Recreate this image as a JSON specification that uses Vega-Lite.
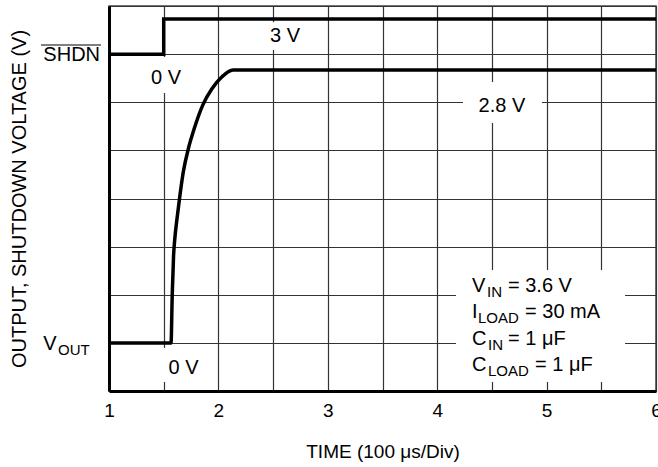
{
  "$schema": "https://vega.github.io/schema/vega-lite/v6.json",
  "width": 547,
  "height": 385,
  "autosize": {"type": "none"},
  "padding": {"left": 109, "top": 6, "right": 2, "bottom": 76},
  "background": "white",
  "config": {
    "view": {"stroke": "#444", "strokeWidth": 1.5},
    "font": "Liberation Sans",
    "text": {"font": "Liberation Sans", "color": "black"}
  },
  "datasets": {
    "traces": [
      {"series": "SHDN", "t": 1, "v": 7},
      {"series": "SHDN", "t": 1.5, "v": 7},
      {"series": "SHDN", "t": 1.5, "v": 7.73},
      {"series": "SHDN", "t": 6, "v": 7.73},
      {"series": "VOUT", "t": 1, "v": 1},
      {"series": "VOUT", "t": 1.567, "v": 1},
      {"series": "VOUT", "t": 1.578, "v": 2.0},
      {"series": "VOUT", "t": 1.59, "v": 2.8},
      {"series": "VOUT", "t": 1.603, "v": 3.2},
      {"series": "VOUT", "t": 1.62, "v": 3.55},
      {"series": "VOUT", "t": 1.643, "v": 3.97},
      {"series": "VOUT", "t": 1.679, "v": 4.55},
      {"series": "VOUT", "t": 1.725, "v": 5.03},
      {"series": "VOUT", "t": 1.786, "v": 5.5},
      {"series": "VOUT", "t": 1.859, "v": 5.95},
      {"series": "VOUT", "t": 1.941, "v": 6.28},
      {"series": "VOUT", "t": 2.033, "v": 6.53},
      {"series": "VOUT", "t": 2.133, "v": 6.67},
      {"series": "VOUT", "t": 6, "v": 6.67}
    ],
    "boxes": [
      {"t1": 2.398, "t2": 2.837, "v1": 7.086, "v2": 7.66},
      {"t1": 1.283, "t2": 1.759, "v1": 6.19, "v2": 6.94},
      {"t1": 4.236, "t2": 4.958, "v1": 5.569, "v2": 6.421},
      {"t1": 1.375, "t2": 1.923, "v1": 0.187, "v2": 0.894},
      {"t1": 4.172, "t2": 5.717, "v1": 0.187, "v2": 2.514}
    ],
    "centerLabels": [
      {"t": 2.609, "v": 7.252, "text": "3 V"},
      {"t": 1.521, "v": 6.379, "text": "0 V"},
      {"t": 4.592, "v": 5.797, "text": "2.8 V"},
      {"t": 1.681, "v": 0.353, "text": "0 V"}
    ],
    "mainLabels": [
      {"t": 4.318, "v": 2.058, "text": "V"},
      {"t": 4.647, "v": 2.058, "text": "= 3.6 V"},
      {"t": 4.318, "v": 1.518, "text": "I"},
      {"t": 4.803, "v": 1.518, "text": "= 30 mA"},
      {"t": 4.318, "v": 0.956, "text": "C"},
      {"t": 4.647, "v": 0.956, "text": "= 1 μF"},
      {"t": 4.318, "v": 0.416, "text": "C"},
      {"t": 4.894, "v": 0.416, "text": "= 1 μF"},
      {"t": 0.4, "v": 0.852, "text": "V"}
    ],
    "subLabels": [
      {"t": 4.455, "v": 1.954, "text": "IN"},
      {"t": 4.373, "v": 1.414, "text": "LOAD"},
      {"t": 4.464, "v": 0.852, "text": "IN"},
      {"t": 4.464, "v": 0.312, "text": "LOAD"},
      {"t": 0.534, "v": 0.748, "text": "OUT"}
    ],
    "rightLabels": [
      {"t": 0.918, "v": 6.854, "text": "SHDN"}
    ],
    "overline": [
      {"t1": 0.378, "t2": 0.927, "v": 7.19}
    ]
  },
  "encoding": {
    "x": {
      "field": "t", "type": "quantitative",
      "scale": {"domain": [1, 6], "nice": false, "zero": false},
      "axis": {
        "values": [1, 1.5, 2, 2.5, 3, 3.5, 4, 4.5, 5, 5.5, 6],
        "labelExpr": "datum.value % 1 == 0 ? format(datum.value, 'd') : ''",
        "ticks": false,
        "domain": true, "domainColor": "black", "domainWidth": 3,
        "grid": true, "gridColor": "#333", "gridWidth": 1.2,
        "labelFont": "Liberation Sans", "labelFontSize": 19, "labelColor": "black",
        "labelPadding": 10, "labelOverlap": false, "labelFlush": false, "labelBound": false,
        "title": "TIME (100 μs/Div)",
        "titleFont": "Liberation Sans", "titleFontSize": 19, "titleFontWeight": "normal", "titleColor": "black",
        "titlePadding": 22
      }
    },
    "y": {
      "field": "v", "type": "quantitative",
      "scale": {"domain": [0, 8], "nice": false, "zero": false},
      "axis": {
        "values": [0, 1, 2, 3, 4, 5, 6, 7, 8],
        "labels": false,
        "ticks": false,
        "domain": true, "domainColor": "black", "domainWidth": 3,
        "grid": true, "gridColor": "#333", "gridWidth": 1.2,
        "title": "OUTPUT, SHUTDOWN VOLTAGE (V)",
        "titleFont": "Liberation Sans", "titleFontSize": 20, "titleFontWeight": "normal", "titleColor": "black",
        "titlePadding": 80
      }
    }
  },
  "layer": [
    {
      "data": {"name": "boxes"},
      "mark": {"type": "rect", "fill": "white", "stroke": null},
      "encoding": {
        "x": {"field": "t1", "type": "quantitative"},
        "x2": {"field": "t2"},
        "y": {"field": "v1", "type": "quantitative"},
        "y2": {"field": "v2"}
      }
    },
    {
      "data": {"name": "traces"},
      "transform": [{"filter": "datum.series == 'SHDN'"}],
      "mark": {"type": "line", "color": "black", "strokeWidth": 3.5, "interpolate": "linear", "strokeJoin": "miter", "strokeCap": "butt"},
      "encoding": {}
    },
    {
      "data": {"name": "traces"},
      "transform": [{"filter": "datum.series == 'VOUT'"}],
      "mark": {"type": "line", "color": "black", "strokeWidth": 3.5, "interpolate": "monotone", "strokeJoin": "miter", "strokeCap": "butt"},
      "encoding": {}
    },
    {
      "data": {"name": "centerLabels"},
      "mark": {"type": "text", "align": "center", "baseline": "alphabetic", "fontSize": 20, "font": "Liberation Sans", "color": "black"},
      "encoding": {"text": {"field": "text"}}
    },
    {
      "data": {"name": "mainLabels"},
      "mark": {"type": "text", "align": "left", "baseline": "alphabetic", "fontSize": 20, "font": "Liberation Sans", "color": "black"},
      "encoding": {"text": {"field": "text"}}
    },
    {
      "data": {"name": "subLabels"},
      "mark": {"type": "text", "align": "left", "baseline": "alphabetic", "fontSize": 15, "font": "Liberation Sans", "color": "black"},
      "encoding": {"text": {"field": "text"}}
    },
    {
      "data": {"name": "rightLabels"},
      "mark": {"type": "text", "align": "right", "baseline": "alphabetic", "fontSize": 20, "font": "Liberation Sans", "color": "black"},
      "encoding": {"text": {"field": "text"}}
    },
    {
      "data": {"name": "overline"},
      "mark": {"type": "rule", "color": "black", "strokeWidth": 1.2},
      "encoding": {
        "x": {"field": "t1", "type": "quantitative"},
        "x2": {"field": "t2"},
        "y": {"field": "v", "type": "quantitative"}
      }
    }
  ]
}
